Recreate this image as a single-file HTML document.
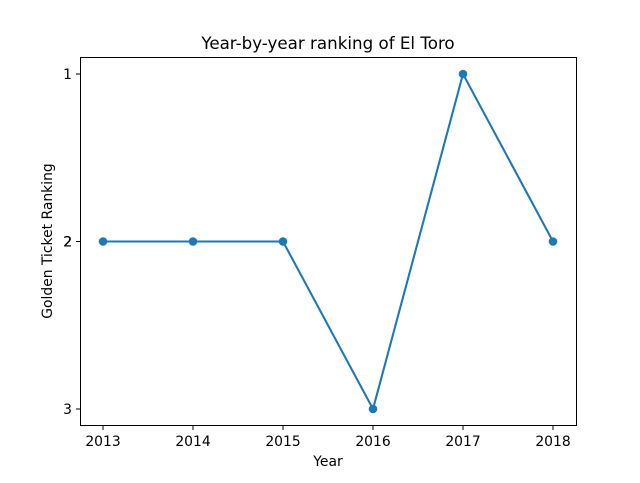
<!DOCTYPE html>
<html><head><meta charset="utf-8"><style>
body{margin:0;background:#fff;}
svg text{font-family:"DejaVu Sans","Liberation Sans",sans-serif;fill:#000;}
</style></head><body>
<svg id="chart" width="640" height="478">
<rect x="0" y="0" width="640" height="478" fill="#fff"/>
<text x="328" y="49" font-size="16.7" text-anchor="middle">Year-by-year ranking of El Toro</text>
<g id="plot"></g>
<rect x="80.5" y="57.5" width="496" height="368" fill="none" stroke="#000" stroke-width="1"/>
<text x="328" y="466" font-size="13.9" text-anchor="middle">Year</text>
<text x="52" y="241" font-size="13.9" text-anchor="middle" transform="rotate(-90 52 241)">Golden Ticket Ranking</text>
</svg>
<script>
const years=[2013,2014,2015,2016,2017,2018];
const ranks=[2,2,2,3,1,2];
const yTicks=[1,2,3];
const yTickLabels=["1","2","3"];
const NS="http://www.w3.org/2000/svg";
const g=document.getElementById('plot');
function xs(v){return 103+(v-2013)*(553-103)/5;}
function ys(v){return 74+(v-1)*(409-74)/2;}
function mk(t,a){const e=document.createElementNS(NS,t);for(const k in a)e.setAttribute(k,a[k]);g.appendChild(e);return e;}
years.forEach(y=>{
  const x=xs(y);
  const t=mk('line',{x1:x,x2:x,y1:425.5,y2:430,stroke:'#000'});
  
  
  const l=mk('text',{x:x,y:446,'font-size':13.9,'text-anchor':'middle'});l.textContent=y;
  
  
});
yTicks.forEach((v,i)=>{
  const y=ys(v);
  const t=mk('line',{x1:76,x2:80.5,y1:y,y2:y,stroke:'#000'});
  
  
  const l=mk('text',{x:72,y:y+5,'font-size':13.9,'text-anchor':'end'});l.textContent=yTickLabels[i];
  
  
});
const d=mk('text',{x:72.3,y:ys(2)+5,'font-size':13.9,'text-anchor':'end'});d.textContent="2";


const pts=years.map((y,i)=>xs(y)+','+ys(ranks[i])).join(' ');
const pl=mk('polyline',{points:pts,fill:'none',stroke:'#1f77b4','stroke-width':2.08});


years.forEach((y,i)=>{
  const c=mk('circle',{cx:xs(y),cy:ys(ranks[i]),r:4.3,fill:'#1f77b4'});
  
  
});
</script>
</body></html>
